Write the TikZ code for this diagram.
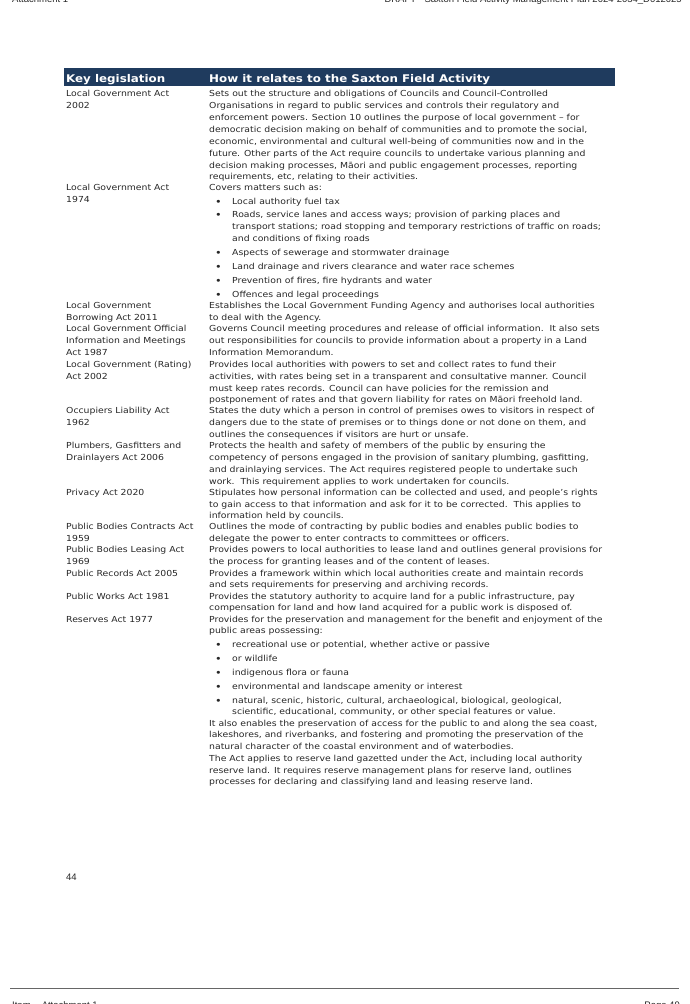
\documentclass[tikz,border=0pt]{standalone}
\usepackage{fontspec}
\setmainfont{DejaVu Sans}[FakeStretch=1.12]
\newfontfamily\arial{Liberation Sans}
\definecolor{navy}{HTML}{1F3B5E}
\newcounter{ln}
\newcommand\rl[2]{\stepcounter{ln}\node[txt] (r\theln) at (209,#1+3) {#2};}
\newcommand\kl[2]{\stepcounter{ln}\node[txt] (k\theln) at (66,#1+3) {#2};}
\newcommand\bl[2]{\stepcounter{ln}\node[txt] (b\theln) at (215,#1+4.5) {\fontsize{10}{10}\selectfont\textbullet};\node[txt] (t\theln) at (232,#1+3) {#2};}
\newcommand\cl[2]{\stepcounter{ln}\node[txt] (c\theln) at (232,#1+3) {#2};}
\begin{document}
\begin{tikzpicture}[x=1pt,y=-1pt,
  txt/.style={anchor=base west,inner sep=0pt,font=\fontsize{8.3}{9}\selectfont,text=black!85},
  hd/.style={anchor=base west,inner sep=0pt,font=\fontsize{10.6}{12}\bfseries\selectfont,text=white},
  pg/.style={inner sep=0pt,font=\arial\fontsize{9.5}{11}\selectfont,text=black!85}]
\useasboundingbox (0,0) rectangle (689,1004);
\begin{scope}
\clip (0,0) rectangle (689,1004);
\node[pg,anchor=base west] (att) at (12,2) {Attachment 1};
\node[pg,anchor=base east] (ttl) at (682,2) {DRAFT - Saxton Field Activity Management Plan 2024-2034\_D012025};
\node[pg,anchor=base west] (item) at (12,1008) {Item\ \ - Attachment 1};
\node[pg,anchor=base east] (page) at (680,1008) {Page 49};
\end{scope}
\fill[navy] (64,68) rectangle (615,86);
\node[hd] (h1) at (66,82) {Key legislation};
\node[hd] (h2) at (209,82) {How it relates to the Saxton Field Activity};
\kl{93}{Local Government Act}
\kl{105}{2002}
\rl{93}{Sets out the structure and obligations of Councils and Council-Controlled}
\rl{105}{Organisations in regard to public services and controls their regulatory and}
\rl{117}{enforcement powers. Section 10 outlines the purpose of local government – for}
\rl{129}{democratic decision making on behalf of communities and to promote the social,}
\rl{141}{economic, environmental and cultural well-being of communities now and in the}
\rl{153}{future. Other parts of the Act require councils to undertake various planning and}
\rl{165}{decision making processes, Māori and public engagement processes, reporting}
\rl{176}{requirements, etc, relating to their activities.}
\kl{187}{Local Government Act}
\kl{199}{1974}
\rl{187}{Covers matters such as:}
\bl{201}{Local authority fuel tax}
\bl{214}{Roads, service lanes and access ways; provision of parking places and}
\cl{226}{transport stations; road stopping and temporary restrictions of traffic on roads;}
\cl{238}{and conditions of fixing roads}
\bl{252}{Aspects of sewerage and stormwater drainage}
\bl{266}{Land drainage and rivers clearance and water race schemes}
\bl{280}{Prevention of fires, fire hydrants and water}
\bl{294}{Offences and legal proceedings}
\kl{305}{Local Government}
\kl{317}{Borrowing Act 2011}
\rl{305}{Establishes the Local Government Funding Agency and authorises local authorities}
\rl{317}{to deal with the Agency.}
\kl{328}{Local Government Official}
\kl{340}{Information and Meetings}
\kl{352}{Act 1987}
\rl{328}{Governs Council meeting procedures and release of official information.\ \ It also sets}
\rl{340}{out responsibilities for councils to provide information about a property in a Land}
\rl{352}{Information Memorandum.}
\kl{364}{Local Government (Rating)}
\kl{376}{Act 2002}
\rl{364}{Provides local authorities with powers to set and collect rates to fund their}
\rl{376}{activities, with rates being set in a transparent and consultative manner. Council}
\rl{388}{must keep rates records. Council can have policies for the remission and}
\rl{399}{postponement of rates and that govern liability for rates on Māori freehold land.}
\kl{410}{Occupiers Liability Act}
\kl{422}{1962}
\rl{410}{States the duty which a person in control of premises owes to visitors in respect of}
\rl{422}{dangers due to the state of premises or to things done or not done on them, and}
\rl{434}{outlines the consequences if visitors are hurt or unsafe.}
\kl{445}{Plumbers, Gasfitters and}
\kl{457}{Drainlayers Act 2006}
\rl{445}{Protects the health and safety of members of the public by ensuring the}
\rl{457}{competency of persons engaged in the provision of sanitary plumbing, gasfitting,}
\rl{469}{and drainlaying services. The Act requires registered people to undertake such}
\rl{481}{work.\ \ This requirement applies to work undertaken for councils.}
\kl{492}{Privacy Act 2020}
\rl{492}{Stipulates how personal information can be collected and used, and people’s rights}
\rl{504}{to gain access to that information and ask for it to be corrected.\ \ This applies to}
\rl{515}{information held by councils.}
\kl{526}{Public Bodies Contracts Act}
\kl{538}{1959}
\rl{526}{Outlines the mode of contracting by public bodies and enables public bodies to}
\rl{538}{delegate the power to enter contracts to committees or officers.}
\kl{549}{Public Bodies Leasing Act}
\kl{561}{1969}
\rl{549}{Provides powers to local authorities to lease land and outlines general provisions for}
\rl{561}{the process for granting leases and of the content of leases.}
\kl{573}{Public Records Act 2005}
\rl{573}{Provides a framework within which local authorities create and maintain records}
\rl{584}{and sets requirements for preserving and archiving records.}
\kl{596}{Public Works Act 1981}
\rl{596}{Provides the statutory authority to acquire land for a public infrastructure, pay}
\rl{607}{compensation for land and how land acquired for a public work is disposed of.}
\kl{619}{Reserves Act 1977}
\rl{619}{Provides for the preservation and management for the benefit and enjoyment of the}
\rl{630}{public areas possessing:}
\bl{644}{recreational use or potential, whether active or passive}
\bl{658}{or wildlife}
\bl{672}{indigenous flora or fauna}
\bl{686}{environmental and landscape amenity or interest}
\bl{700}{natural, scenic, historic, cultural, archaeological, biological, geological,}
\cl{711}{scientific, educational, community, or other special features or value.}
\rl{723}{It also enables the preservation of access for the public to and along the sea coast,}
\rl{734}{lakeshores, and riverbanks, and fostering and promoting the preservation of the}
\rl{746}{natural character of the coastal environment and of waterbodies.}
\rl{758}{The Act applies to reserve land gazetted under the Act, including local authority}
\rl{770}{reserve land. It requires reserve management plans for reserve land, outlines}
\rl{781}{processes for declaring and classifying land and leasing reserve land.}
\node[pg,anchor=base west] (pn) at (66,880) {44};
\draw[black!60,line width=0.8pt] (10,988) -- (679,988);
\end{tikzpicture}
\end{document}
